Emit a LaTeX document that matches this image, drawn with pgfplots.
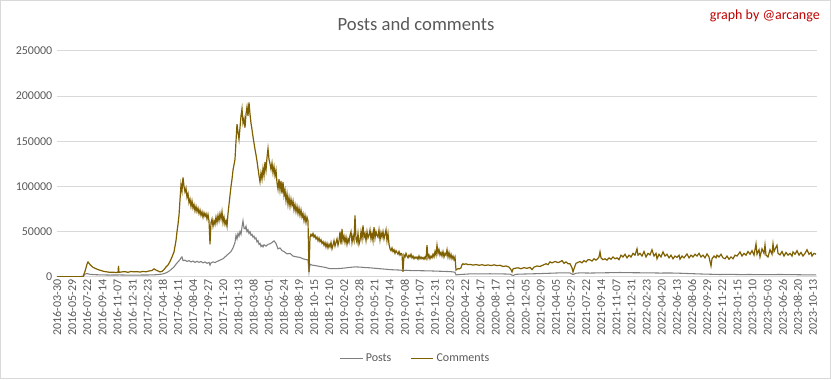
\documentclass[border=0pt]{standalone}
\usepackage{pgfplots}
\pgfplotsset{compat=1.18}
\usepackage{fontspec}
\setmainfont{Carlito}
\definecolor{gridc}{RGB}{217,217,217}
\definecolor{txtc}{RGB}{89,89,89}
\definecolor{postc}{RGB}{127,127,127}
\definecolor{commc}{RGB}{127,96,0}
\definecolor{sigc}{RGB}{192,0,0}
\begin{document}
\begin{tikzpicture}[x=0.75pt,y=0.75pt]
\useasboundingbox (0,0) rectangle (831,379);
\draw[gridc,line width=0.75pt] (0.5,0.5) rectangle (830.5,378.5);
\node[font=\fontsize{14}{16}\selectfont,text=txtc] at (416,355) {Posts and comments};
\node[font=\fontsize{10.5}{12}\selectfont,text=sigc,anchor=east,inner sep=0pt] at (820,363) {graph by @arcange};
\begin{axis}[
  at={(57,113)}, anchor=south west,
  scale only axis, width=570pt, height=169.5pt,
  xmin=0, xmax=760, ymin=0, ymax=250000,
  ytick={0,50000,...,250000},
  scaled y ticks=false,
  yticklabel style={/pgf/number format/fixed,/pgf/number format/1000 sep={}},
  /pgf/number format/assume math mode=true,
  ymajorgrids, major grid style={gridc,line width=0.75pt},
  axis line style={draw=none},
  tick style={draw=none},
  xtick={0,15.12,...,760},
  xticklabels={2016-03-30,2016-05-29,2016-07-22,2016-09-14,2016-11-07,2016-12-31,2017-02-23,2017-04-18,2017-06-11,2017-08-04,2017-09-27,2017-11-20,2018-01-13,2018-03-08,2018-05-01,2018-06-24,2018-08-19,2018-10-15,2018-12-10,2019-02-02,2019-03-28,2019-05-21,2019-07-14,2019-09-08,2019-11-07,2019-12-31,2020-02-23,2020-04-22,2020-06-17,2020-08-17,2020-10-12,2020-12-05,2021-02-09,2021-04-05,2021-05-29,2021-07-22,2021-09-14,2021-11-07,2021-12-31,2022-02-23,2022-04-20,2022-06-13,2022-08-06,2022-09-29,2022-11-22,2023-01-15,2023-03-10,2023-05-03,2023-06-26,2023-08-20,2023-10-13},
  xticklabel style={rotate=90,anchor=east,font=\fontsize{9}{10}\selectfont,text=txtc,inner sep=2pt},
  yticklabel style={font=\fontsize{9}{10}\selectfont,text=txtc,anchor=east},
  legend columns=2,
  legend style={at={(0.472,-0.363)},anchor=center,draw=none,fill=none,font=\fontsize{9}{10}\selectfont,text=txtc,/tikz/every even column/.append style={column sep=12pt}},
  legend image code/.code={\draw[#1] (0pt,0pt) -- (17pt,0pt);},
]
\addplot[postc,line width=0.8pt] table {
x y
0 0
26 0
28 3000
30 3600
33 2800
38 2400
43 2200
53 2000
63 2100
73 1900
83 2000
93 2100
98 2300
101 2600
105 3000
108 4000
111 5500
114 8000
117 11000
119 14000
121 16600
123 19000
124 21000
125 22000
126 18000
128 18500
130 17000
132 18000
134 16500
136 17500
138 16000
140 17200
142 16000
144 17000
146 15500
148 16500
150 15000
152 16000
153 13000
154 15500
156 16500
158 15800
160 17000
162 18000
164 19000
166 20000
168 22000
170 24000
172 26000
174 28000
176 32000
178 38000
179 46000
180 42000
181 48000
182 45000
183 50000
184 47000
185 55000
186 62000
187 54000
188 53000
189 56000
190 50000
191 52000
192 48000
193 50000
194 46000
195 47000
196 44000
197 45000
198 42000
199 43000
200 38700
201 40000
202 36000
203 37000
204 33500
205 35000
206 33200
207 35500
209 34000
211 36000
213 36500
215 38000
217 39800
219 37000
221 31000
223 32000
225 29000
227 28000
230 25400
233 26000
236 23000
240 22000
243 21500
246 20000
250 18800
251 19000
252 5500
253 14000
255 13000
258 12500
263 11500
268 10500
273 9000
278 9000
283 9300
288 9800
293 10500
298 11000
303 10800
308 10300
313 10000
318 9500
323 9000
328 8500
333 8000
338 7700
343 7500
346 7000
349 7300
353 7000
363 6800
373 6600
383 6200
393 5800
396 5500
398 5000
399 2200
403 2600
409 3000
413 3300
423 3300
433 3400
443 3300
453 3000
456 1500
459 2800
463 3000
473 3300
483 3600
493 4000
503 4400
513 4300
516 2500
519 4000
523 4400
533 4200
543 4400
553 4600
563 4800
573 4600
583 4500
593 4400
603 4200
613 4300
623 4000
633 3600
643 3200
653 2900
663 2600
673 2800
683 2500
693 2600
703 2400
713 2500
723 2600
733 2500
743 2300
753 2200
759 2200
};
\addlegendentry{Posts}
\addplot[commc,line width=0.9pt] table {
x y
0 0
26 300
28 6000
30 14000
31 16500
32 15000
34 12500
36 10500
38 9500
41 8000
44 7000
47 6000
50 5500
53 5000
56 5200
59 4800
61 5000
61.5 12000
62 5000
65 5500
68 5800
71 5000
74 6000
77 5500
80 5800
83 5300
86 6000
89 5600
92 6500
95 7000
97 8800
99 7500
101 6500
103 5500
105 6000
107 8000
109 11000
111 13000
113 17000
115 22000
117 27600
119 40000
120 50000
121 58000
122 68000
123 85000
124 102000
125 95000
126 110000
127 100000
128 94000
129 98000
130 88000
131 92000
132 82000
133 86000
134 78000
135 84000
136 76000
137 80000
138 73000
139 78000
140 72000
141 76000
142 70000
143 74000
144 68000
145 72000
146 66000
147 71000
148 67000
149 70000
150 64000
151 69000
152 62000
153 36000
154 60000
155 64000
156 56000
157 62000
158 58000
159 66000
160 60000
161 68000
162 62000
163 70000
164 64000
165 72000
166 60000
167 66000
168 58000
169 62000
170 56000
171 70000
172 80000
173 90000
174 100000
175 108000
176 118000
177 124000
178 130000
179 150000
180 169000
181 160000
182 152000
183 165000
184 178000
185 186000
186 170000
187 175000
188 165000
189 180000
190 188000
191 178000
192 193000
193 180000
194 170000
195 163000
196 155000
197 148000
198 141000
199 135000
200 128000
201 120000
202 112000
203 105000
204 115000
205 108000
206 120000
207 112000
208 127000
209 118000
210 132000
211 142000
212 130000
213 125000
214 119000
215 126000
216 115000
217 122000
218 112000
219 118000
220 104000
221 97000
222 108000
223 96000
224 106000
225 92000
226 105000
227 90000
228 96000
229 84000
230 92000
231 80000
232 88000
233 78000
234 86000
235 79000
236 84000
237 74000
238 80000
239 72000
240 78000
241 70000
242 76000
243 68000
244 74000
245 66000
246 70000
247 62000
248 68000
249 60000
250 66000
251 62000
252 5500
253 44000
254 47000
255 45000
256 48000
257 44000
258 46000
259 42000
260 44000
261 40000
262 43000
263 39000
264 41000
265 37000
266 39000
267 35000
268 38000
269 33000
270 37000
271 32000
272 36000
273 33000
274 38000
275 31000
276 35000
277 40000
278 34000
279 38000
280 42000
281 35000
282 40000
283 50000
284 36000
285 53000
286 40000
287 45000
288 38000
289 44000
290 36000
291 42000
292 38000
293 46000
294 50000
295 38000
296 45000
297 40000
298 68000
299 42000
300 38000
301 48000
302 36000
303 40000
304 50000
305 42000
306 57000
307 44000
308 48000
309 40000
310 50000
311 43000
312 46000
313 52000
314 42000
315 48000
316 40000
317 55000
318 43000
319 50000
320 46000
321 44000
322 52000
323 41000
324 49000
325 44000
326 50000
327 42000
328 47000
329 52000
330 40000
331 48000
332 36000
333 31000
334 29000
335 32000
336 28000
337 30000
338 26000
339 29000
340 27000
341 25000
342 28000
343 24000
344 26000
345 25000
346 5500
347 24000
348 22000
349 26000
350 23000
351 21000
352 24000
353 22000
354 25000
355 21000
356 23000
357 20000
358 22000
359 20500
360 22000
361 19500
362 23000
363 20000
364 22000
365 20000
366 21500
367 19500
368 22000
369 20000
370 35000
371 21000
372 24000
373 20000
374 23000
375 21000
376 25000
377 22000
378 28000
379 24000
380 35000
381 26000
382 30000
383 24000
384 27000
385 23000
386 28000
387 22000
388 26000
389 24000
390 30000
391 22000
392 27000
393 21000
394 25000
395 20000
396 23000
397 19000
398 22000
399 7500
400 8500
401 9000
402 8800
403 9200
404 10000
405 13500
406 14500
407 13800
409 14400
411 13500
413 13800
416 13000
419 13600
422 12800
425 13400
428 12600
431 13200
434 12500
437 13300
440 12400
443 12800
446 11500
449 12000
452 10800
454 8000
455 5500
456 8800
458 9500
461 10000
464 9000
467 10200
470 9400
473 10500
475 8000
477 10800
480 12000
483 11500
486 13000
489 14500
491 13500
493 16600
495 15500
498 17000
501 15800
503 16600
505 18000
507 15000
509 16500
511 14500
513 14400
515 10000
516 5500
517 9000
519 15000
521 16000
523 17000
525 15500
527 18000
529 16500
531 19000
533 18800
535 17500
537 20000
539 18500
541 20500
542 22000
543 27600
544 21000
546 19000
548 20000
550 18500
552 21000
554 19500
556 22000
558 20000
560 21000
562 19000
564 24000
566 22000
568 25000
570 21000
572 24000
574 22000
576 26000
578 24000
580 31000
581 24000
583 26000
585 23000
587 28000
589 22000
591 26000
593 24300
595 30000
597 23000
599 26000
600 20000
602 25000
604 22000
606 27600
608 23000
610 25000
612 21000
614 24000
616 20000
618 23000
620 21500
622 24000
623 19500
625 23000
627 21000
629 24000
630 25400
632 21000
634 24000
636 22000
638 25000
640 23000
642 26000
644 22000
646 24000
648 21000
650 25400
652 22000
654 12000
655 20000
657 23000
659 21000
660 24000
662 22000
664 25000
666 21000
668 20000
670 23000
672 19500
674 22000
676 20000
678 24000
680 23000
682 26000
683 27600
685 23000
687 26000
689 24000
691 28000
693 25000
695 29000
697 24000
699 36500
700 25000
702 30000
703 22000
705 31000
707 26000
708 35400
709 24000
711 22000
713 30000
715 25000
716 36500
717 28000
719 33000
720 35000
721 26000
723 24300
725 28000
727 23000
729 27000
731 24000
733 26000
735 23000
736 27600
738 25000
740 29000
742 24000
744 27000
746 23000
748 26000
750 30000
752 25000
754 27000
755 23000
757 26000
759 25000
};
\addlegendentry{Comments}
\end{axis}
\end{tikzpicture}
\end{document}
